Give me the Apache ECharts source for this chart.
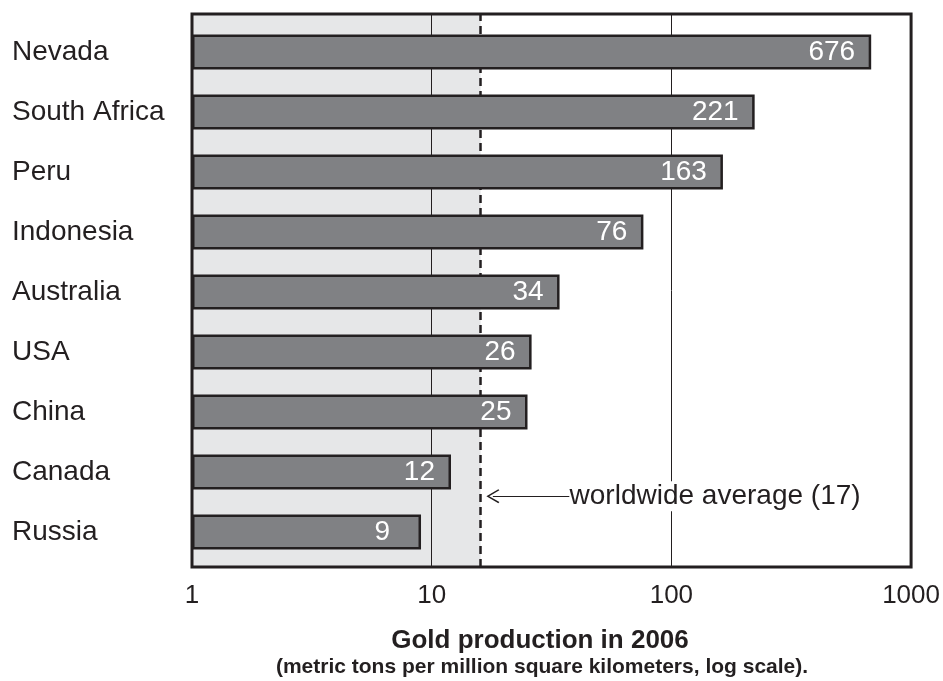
<!DOCTYPE html>
<html>
<head>
<meta charset="utf-8">
<script src="https://cdn.jsdelivr.net/npm/echarts@6/dist/echarts.min.js"></script>
<style>
  html, body { margin: 0; padding: 0; background: #fff; }
  #main { width: 943px; height: 681px; }
</style>
</head>
<body>
<div id="main"></div>
<script>
// gold production per area, 2006
var categories = ['Nevada', 'South Africa', 'Peru', 'Indonesia', 'Australia', 'USA', 'China', 'Canada', 'Russia'];
var production = [676, 221, 163, 76, 34, 26, 25, 12, 9];
var avgLabel = 17;     // value written in the note
var avgLinePos = 16;   // where the dashed line sits in the picture
var arrowFrom = 18;    // arrow head
var arrowTo = 37.6;    // where the note text starts
var arrowLevel = 0.128;

var ink = '#231f20';
var font = '"Liberation Sans", Arial, Helvetica, sans-serif';

var myChart = echarts.init(document.getElementById('main'));

var barData = production.map(function (v) {
    var item = {value: v};
    if (v < 10) {
        // single digit sits where a two digit number would end
        item.label = {distance: 31};
    }
    return item;
});

option = {
    animation: false,
    textStyle: {fontFamily: font},
    grid: [
        {left: 192, right: 31, top: 14, bottom: 114, show: true, borderColor: ink, borderWidth: 3, backgroundColor: 'transparent'},
        {left: 192, right: 31, top: 22, bottom: 119}
    ],
    xAxis: [
        {
            gridIndex: 0, type: 'log', logBase: 10, min: 1, max: 1000,
            axisLine: {show: false},
            axisTick: {show: false},
            axisLabel: {
                fontSize: 26, color: ink, margin: 16, fontFamily: font,
                formatter: function (v) { return String(v); }
            },
            splitLine: {show: true, lineStyle: {color: ink, width: 1}}
        },
        {
            gridIndex: 1, type: 'log', logBase: 10, min: 1, max: 1000,
            show: false
        }
    ],
    yAxis: [
        {gridIndex: 0, type: 'value', min: 0, max: 1, show: false},
        {
            gridIndex: 1, type: 'category', data: categories, inverse: true,
            axisLine: {show: false},
            axisTick: {show: false},
            axisLabel: {align: 'left', margin: 180, fontSize: 28, color: ink, fontFamily: font}
        }
    ],
    series: [
        {
            // shaded band below the average
            type: 'line', xAxisIndex: 0, yAxisIndex: 0, z: -1, data: [],
            silent: true,
            markArea: {
                silent: true,
                z: -1,
                itemStyle: {color: '#e6e7e8', opacity: 1},
                data: [[{xAxis: 1}, {xAxis: avgLinePos}]]
            }
        },
        {
            // dashed average line + arrow note
            type: 'line', xAxisIndex: 0, yAxisIndex: 0, z: 1, data: [],
            silent: true,
            markLine: {
                silent: true,
                z: 1,
                animation: false,
                symbol: ['none', 'none'],
                data: [
                    {
                        xAxis: avgLinePos,
                        lineStyle: {color: ink, width: 2.5, type: [8, 5]},
                        label: {show: false}
                    },
                    [
                        {
                            coord: [arrowFrom, arrowLevel],
                            symbol: 'path://M5,0 L10,9.2 L9.2,10 L5,2.2 L0.8,10 L0,9.2 Z',
                            symbolSize: [14, 13],
                            lineStyle: {color: ink, width: 1, type: 'solid'},
                            itemStyle: {color: ink},
                            label: {
                                show: true, position: 'end', distance: 0,
                                formatter: 'worldwide average (' + avgLabel + ')',
                                color: ink, fontSize: 28, fontFamily: font,
                                backgroundColor: '#fff', padding: [1, 0]
                            }
                        },
                        {coord: [arrowTo, arrowLevel], symbol: 'none'}
                    ]
                ]
            }
        },
        {
            type: 'bar', xAxisIndex: 1, yAxisIndex: 1, z: 2,
            data: barData,
            barWidth: 35,
            itemStyle: {color: '#808184', borderColor: ink, borderWidth: 2.5},
            label: {
                show: true, position: 'insideRight', distance: 16,
                color: '#fff', fontSize: 28, fontFamily: font
            }
        }
    ],
    graphic: [
        {
            type: 'text', x: 540, y: 641, silent: true,
            style: {text: 'Gold production in 2006', fill: ink, font: 'bold 26px ' + font, textAlign: 'center', textVerticalAlign: 'middle'}
        },
        {
            type: 'text', x: 542, y: 667, silent: true,
            style: {text: '(metric tons per million square kilometers, log scale).', fill: ink, font: 'bold 21px ' + font, textAlign: 'center', textVerticalAlign: 'middle'}
        }
    ]
};

myChart.setOption(option);
</script>
</body>
</html>
